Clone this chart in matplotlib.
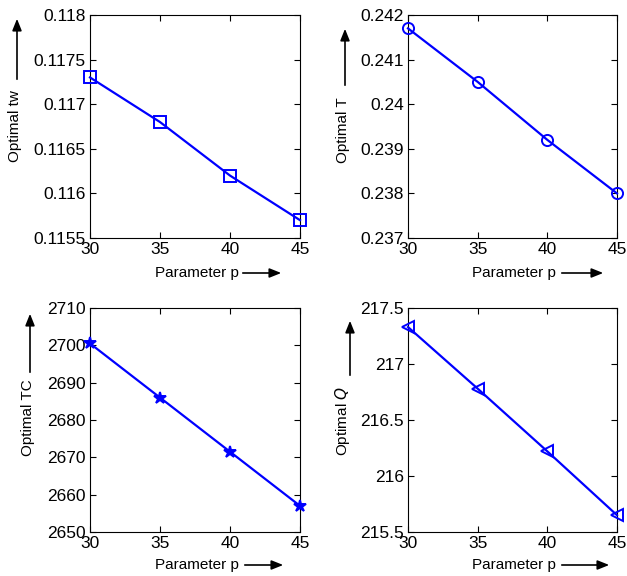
import matplotlib.pyplot as plt
from matplotlib.patches import FancyArrowPatch

plt.rcParams['font.family'] = ['Liberation Sans', 'DejaVu Sans']

W, H = 627, 576

# data
p = [30, 35, 40, 45]
tw = [0.1173, 0.1168, 0.1162, 0.1157]
T = [0.2417, 0.2405, 0.2392, 0.2380]
TC = [2700.5, 2686, 2671.5, 2657]
Q = [217.33, 216.78, 216.22, 215.65]

tw_ticks = [0.1155, 0.116, 0.1165, 0.117, 0.1175, 0.118]
T_ticks = [0.237, 0.238, 0.239, 0.24, 0.241, 0.242]
TC_ticks = [2650, 2660, 2670, 2680, 2690, 2700, 2710]
Q_ticks = [215.5, 216, 216.5, 217, 217.5]
x_ticks = [30, 35, 40, 45]


def px_axes(left, top, right, bottom):
    return fig.add_axes([left / W, 1 - bottom / H, (right - left) / W, (bottom - top) / H])


def arrow(x0, y0, x1, y1):
    a = FancyArrowPatch((x0 / W, 1 - y0 / H), (x1 / W, 1 - y1 / H),
                        transform=fig.transFigure,
                        arrowstyle='-|>,head_length=0.7,head_width=0.28',
                        mutation_scale=10, color='black', lw=1.2)
    fig.add_artist(a)


fig = plt.figure(figsize=(W / 100, H / 100), dpi=100)

panels = [
    # (box, y, ticks, marker, ylabel, ylabel pos, y-arrow, x-arrow pos)
    ((90, 15, 300, 238), tw, tw_ticks, 's', 'Optimal tw', (15, 126), (17, 82, 17, 16), (155, 273, 240, 284)),
    ((408, 15, 617, 238), T, T_ticks, 'o', 'Optimal T', (343, 130), (345, 88, 345, 26), (472, 273, 559, 606)),
    ((90, 308, 300, 532), TC, TC_ticks, '*', 'Optimal TC', (28, 418), (30, 375, 30, 311), (155, 565, 242, 286)),
    ((408, 308, 617, 532), Q, Q_ticks, '<', 'Optimal $\\mathit{Q}$', (343, 421), (350, 378, 350, 318), (472, 565, 559, 612)),
]

for box, y, yt, mk, ylab, ylpos, yarr, xarr in panels:
    ax = px_axes(*box)
    ax.plot(p, y, color='#0000ff', lw=1.6, marker=mk, markersize=8 if mk != '*' else 9,
            markerfacecolor='none' if mk != '*' else '#0000ff', markeredgecolor='#0000ff',
            markeredgewidth=1.4, clip_on=False, zorder=5)
    ax.set_xlim(30, 45)
    ax.set_ylim(yt[0], yt[-1])
    ax.set_xticks(x_ticks)
    ax.set_yticks(yt)
    ax.set_yticklabels([f'{v:g}' for v in yt])
    ax.tick_params(direction='in', top=True, right=True, labelsize=12.5, length=4, pad=3)
    for s in ax.spines.values():
        s.set_linewidth(0.8)
    fig.text(ylpos[0] / W, 1 - ylpos[1] / H, ylab, rotation=90, ha='center', va='center', fontsize=11)
    arrow(*yarr)
    fig.text(xarr[0] / W, 1 - xarr[1] / H, 'Parameter p', ha='left', va='center', fontsize=11)
    arrow(xarr[2], xarr[1], xarr[3], xarr[1])

fig.savefig('out.png', dpi=100)
